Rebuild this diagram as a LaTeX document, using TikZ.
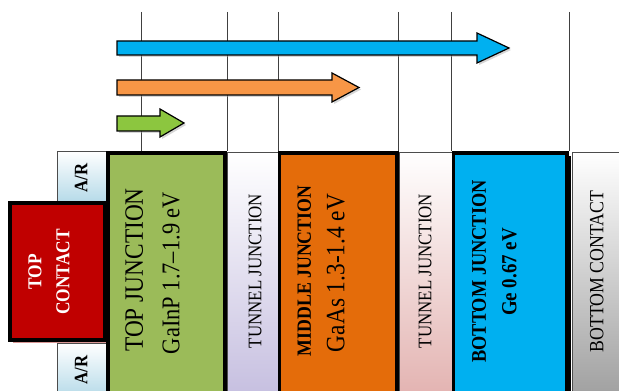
\documentclass[tikz,border=0pt]{standalone}
\usepackage{fontspec}
\setmainfont{Liberation Serif}
\newcommand\narrowtext[1]{\scalebox{0.88}[1]{#1}}
\definecolor{jgreen}{HTML}{9BBB59}
\definecolor{jorange}{HTML}{E46C0A}
\definecolor{jblue}{HTML}{00B0F0}
\definecolor{jred}{HTML}{C00000}
\definecolor{agreen}{HTML}{8CC63F}
\definecolor{aorange}{HTML}{F79646}
\definecolor{ablue}{HTML}{00B0F0}
\definecolor{arblue}{HTML}{B7DBE9}
\definecolor{lavender}{HTML}{C6BFE0}
\definecolor{rosepink}{HTML}{E3B3B1}
\definecolor{contactgray}{HTML}{A0A0A0}
\definecolor{redshadow}{HTML}{D99694}
\begin{document}
\begin{tikzpicture}[x=1pt,y=1pt,
  gridline/.style={draw=black!75,line width=0.8pt},
  junction/.style={draw=black,line width=3.5pt},
  thinbox/.style={draw=black!70,line width=0.8pt},
  beam/.style={draw=black,line width=1.2pt,line join=miter},
  beamshadow/.style={fill=black!35,opacity=0.45},
  lbl/.style={rotate=90,inner sep=0pt,text height=0.66em,text depth=0pt},
  fsize/.style={font=\fontsize{#1}{#1}\selectfont},
  bsize/.style={font=\fontsize{#1}{#1}\selectfont\bfseries}]
\useasboundingbox (0,0) rectangle (619,391);
\clip (0,0) rectangle (619,391);
\fill[white] (0,0) rectangle (619,391);

% layer boundary guide lines
\foreach \gx in {141,227,278,398,451,569}
  \draw[gridline] (\gx,379) -- (\gx,240);

% photon arrows, with soft shadows
\fill[beamshadow] (119,348) -- (479,348) -- (479,356) -- (511,341) -- (479,326) -- (479,334) -- (119,334) -- cycle;
\fill[beamshadow] (119,309) -- (334,309) -- (334,316) -- (361,301.5) -- (334,287) -- (334,294) -- (119,294) -- cycle;
\fill[beamshadow] (119,273) -- (162,273) -- (162,280) -- (186,266) -- (162,252) -- (162,258) -- (119,258) -- cycle;
\filldraw[beam,fill=ablue] (117,350) -- (477,350) -- (477,358) -- (509,343) -- (477,328) -- (477,336) -- (117,336) -- cycle;
\filldraw[beam,fill=aorange] (117,311) -- (332,311) -- (332,318) -- (359,303.5) -- (332,289) -- (332,296) -- (117,296) -- cycle;
\filldraw[beam,fill=agreen] (117,275) -- (160,275) -- (160,282) -- (184,268) -- (160,254) -- (160,260) -- (117,260) -- cycle;

% anti-reflection coatings
\shade[top color=white,bottom color=arblue,thinbox] (57,240) rectangle (107,190);
\shade[top color=white,bottom color=arblue,thinbox] (57,48) rectangle (107,-5);
\node[lbl,bsize=19] (ar1) at (84,213) {\narrowtext{A/R}};
\node[lbl,bsize=19] (ar2) at (84,21) {\narrowtext{A/R}};

% top contact
\fill[redshadow] (12.5,184.5) rectangle (108,47.5);
\filldraw[junction,line width=4pt,fill=jred] (9.5,187.5) rectangle (105,50.5);
\node[lbl,bsize=19.7,text=white] (tc1) at (38,119) {\narrowtext{TOP}};
\node[lbl,bsize=19.7,text=white] (tc2) at (66,119) {\narrowtext{CONTACT}};

% top junction
\filldraw[junction,fill=jgreen] (108,238) rectangle (225,-5);
\node[lbl,fsize=26.5] (tj1) at (139.5,121) {\narrowtext{TOP JUNCTION}};
\node[lbl,fsize=25.5] (tj2) at (176,118) {\narrowtext{GaInP 1.7–1.9 eV}};

% first tunnel junction
\shade[top color=white,bottom color=lavender,thinbox] (227,239) rectangle (278,-5);
\node[lbl,fsize=19.2] (tun1) at (258,120) {\narrowtext{TUNNEL JUNCTION}};

% middle junction
\filldraw[junction,fill=jorange] (279.5,238) rectangle (397,-5);
\node[lbl,bsize=20.2] (mj1) at (307.5,120) {\narrowtext{MIDDLE JUNCTION}};
\node[lbl,fsize=26.5] (mj2) at (341,118) {\narrowtext{GaAs 1.3-1.4 eV}};

% second tunnel junction
\shade[top color=white,bottom color=rosepink,thinbox] (399,239) rectangle (452,-5);
\node[lbl,fsize=19.2] (tun2) at (428,120) {\narrowtext{TUNNEL JUNCTION}};

% bottom junction
\fill[black] (457,235) rectangle (571,-5);
\filldraw[junction,fill=jblue] (453.5,238) rectangle (567,-5);
\node[lbl,bsize=20.8] (bj1) at (482.5,119.5) {\narrowtext{BOTTOM JUNCTION}};
\node[lbl,bsize=21.5] (bj2) at (513,119) {\narrowtext{Ge 0.67 eV}};

% bottom contact
\shade[top color=white,bottom color=contactgray,thinbox] (572,239) rectangle (625,-5);
\node[lbl,fsize=20.2] (bc) at (600,119.5) {\narrowtext{BOTTOM CONTACT}};
\end{tikzpicture}
\end{document}
